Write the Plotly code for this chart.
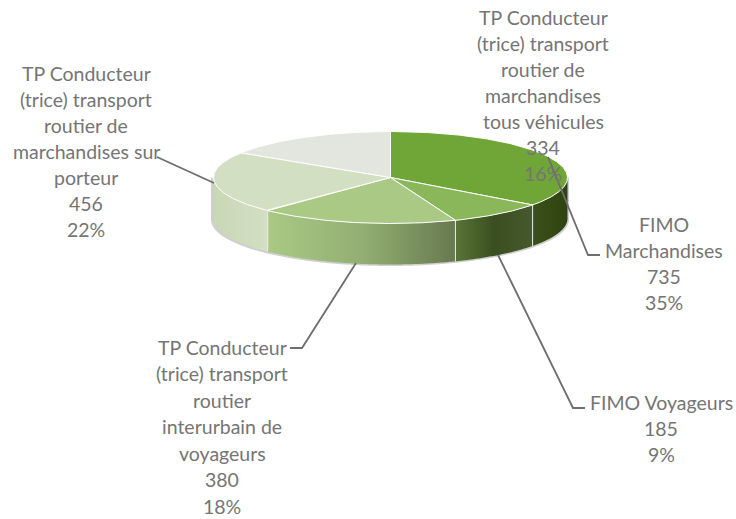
import numpy as np
import plotly.graph_objects as go

categories = [
    "FIMO Marchandises",
    "FIMO Voyageurs",
    "TP Conducteur (trice) transport routier interurbain de voyageurs",
    "TP Conducteur (trice) transport routier de marchandises sur porteur",
    "TP Conducteur (trice) transport routier de marchandises tous véhicules",
]
values = [735, 185, 380, 456, 334]
wrapped_names = [
    ["FIMO", "Marchandises"],
    ["FIMO Voyageurs"],
    ["TP Conducteur", "(trice) transport", "routier", "interurbain de", "voyageurs"],
    ["TP Conducteur", "(trice) transport", "routier de", "marchandises sur", "porteur"],
    ["TP Conducteur", "(trice) transport", "routier de", "marchandises", "tous véhicules"],
]

top_colors = ["#70A537", "#8AB75A", "#A9C985", "#D3DFC3", "#E2E6DE"]
# left to right colours of the visible side walls
wall_colors = [
    ["#3A5019", "#2F4311"],
    ["#5A7438", "#3A4F20", "#46592C"],
    ["#A9C985", "#93AF72", "#67794F"],
    ["#C9D7B6", "#D3DFC3"],
    None,
]

# pie geometry, in pixels of the 736x519 picture
cx, cy = 390.5, 177.5
rx, ry = 177, 46
depth = 41

# label anchors: centre x, first line y, line step
label_pos = [(664, 224, 26), (661, 402, 26), (222, 347, 26.5), (86, 73, 26), (543, 17, 26)]
# leader lines for each label
leaders = [
    ([548, 588, 600], [157, 255, 255]),
    ([498, 573, 585], [255, 408, 408]),
    ([356, 302, 290], [263, 348, 348]),
    ([157, 214], [157, 183]),
]

text_grey = "#757575"
line_grey = "#6E6E6E"
label_font = dict(family="Lato, 'Open Sans', sans-serif", size=19.5, color=text_grey)


def rim(a0, a1, drop=0):
    # angles are degrees clockwise from 12 o'clock
    t = np.radians(np.linspace(a0, a1, max(int(abs(a1 - a0)) * 2, 2)))
    return cx + rx * np.sin(t), cy - ry * np.cos(t) + drop


total = sum(values)
edges = np.cumsum([0] + values) / total * 360

fig = go.Figure()

# soft shadow under the body
xs, ys = rim(90, 270, depth)
fig.add_trace(go.Scatter(
    x=np.r_[cx - rx - 2.5, xs[::-1] + np.linspace(-2.5, 1.5, len(xs)), cx + rx + 1.5],
    y=np.r_[cy, ys[::-1] + 1.5, cy],
    fill="toself", mode="none", fillcolor="#CFCFCF", hoverinfo="skip",
))

# side walls, only the front half can be seen
for i, stops in enumerate(wall_colors):
    if stops is None:
        continue
    a0, a1 = max(edges[i], 90), min(edges[i + 1], 270)
    xt, yt = rim(a0, a1)
    xb, yb = rim(a1, a0, depth)
    scale = [[k / (len(stops) - 1), c] for k, c in enumerate(stops)]
    fig.add_trace(go.Scatter(
        x=np.r_[xt, xb], y=np.r_[yt, yb], mode="none", fill="toself",
        fillgradient=dict(type="horizontal", colorscale=scale), hoverinfo="skip",
    ))

# white seams between the walls
for a in edges[1:4]:
    xt, yt = rim(a, a)
    fig.add_trace(go.Scatter(
        x=[xt[0], xt[0]], y=[yt[0], yt[0] + depth], mode="lines",
        line=dict(color="#E9EDE3", width=1), hoverinfo="skip",
    ))

# top faces
for i, c in enumerate(top_colors):
    xt, yt = rim(edges[i], edges[i + 1])
    fig.add_trace(go.Scatter(
        x=np.r_[cx, xt, cx], y=np.r_[cy, yt, cy], mode="lines", fill="toself",
        fillcolor=c, line=dict(color="#FFFFFF", width=1), name=categories[i],
    ))

# leader lines
for lx, ly in leaders:
    fig.add_trace(go.Scatter(x=lx, y=ly, mode="lines", line=dict(color=line_grey, width=1.8), hoverinfo="skip"))

# data labels, one annotation per line to hold the wide line spacing
for i, name_lines in enumerate(wrapped_names):
    lines = name_lines + [str(values[i]), f"{round(values[i] / total * 100)}%"]
    lx, ly, step = label_pos[i]
    for k, line in enumerate(lines):
        fig.add_annotation(
            x=lx, y=ly + k * step, text=line, showarrow=False,
            xanchor="center", yanchor="middle", font=label_font,
        )

fig.update_layout(
    width=736, height=519, margin=dict(l=0, r=0, t=0, b=0),
    paper_bgcolor="white", plot_bgcolor="white", showlegend=False,
    xaxis=dict(range=[0, 736], visible=False),
    yaxis=dict(range=[519, 0], visible=False),
)

fig.write_html("out.html", config=dict(displayModeBar=False), post_script="document.body.style.margin='0';")
